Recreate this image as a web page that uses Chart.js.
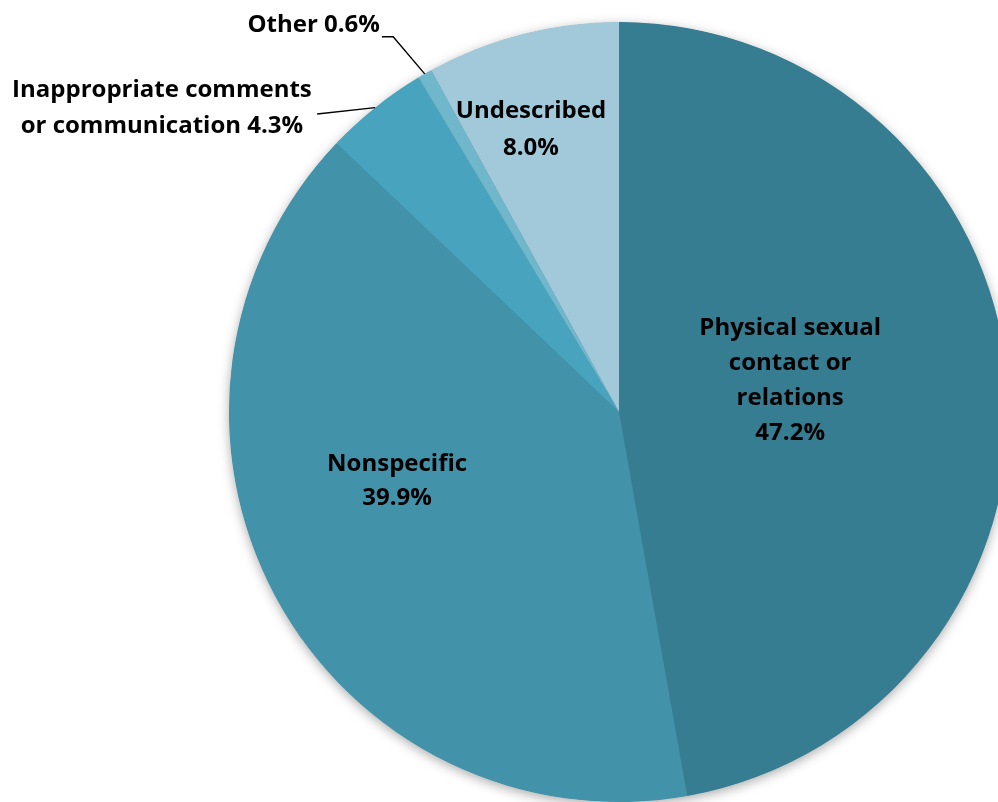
<!DOCTYPE html>
<html>
<head>
<meta charset="utf-8">
<script src="https://cdn.jsdelivr.net/npm/chart.js@4"></script>
<style>
html,body{margin:0;padding:0;background:#fff;overflow:hidden;width:998px;height:802px;}
#c{position:absolute;left:0;top:0;}
</style>
</head>
<body>
<canvas id="c" width="1238" height="802" style="width:1238px;height:802px"></canvas>
<script>
const categories = ['Physical sexual contact or relations','Nonspecific','Inappropriate comments or communication','Other','Undescribed'];
const values = [47.2, 39.9, 4.3, 0.6, 8.0];
const colors = ['#367D91','#4292AA','#48A4BE','#71B7CC','#A1C9DA'];
const labelLines = [
  ['Physical sexual','contact or','relations','47.2%'],
  ['Nonspecific','39.9%'],
  ['Inappropriate comments','or communication 4.3%'],
  ['Other 0.6%'],
  ['Undescribed','8.0%']
];

const FONT = 'bold 24px "Open Sans"';
const BASE_SHIFT = 1.5;
// label placement in units of the pie radius
const inner = {
  0: {ang: 79.1, r: 0.447, lh: 35},
  1: {ang: 253, r: 0.595, lh: 34},
  4: {ang: 342.8, r: 0.763, lh: 37}
};
const outer = {
  3: {pts: [[-0.579,-0.962],[-0.608,-0.962]], tx: -0.613, ty: -0.997, align: 'right', lh: 36},
  2: {pts: [[-0.774,-0.764]], tx: -1.172, ty: -0.828, align: 'center', lh: 36}
};

const pieExtras = {
  id: 'pieExtras',
  beforeDatasetsDraw(chart) {
    const arc = chart.getDatasetMeta(0).data[0];
    const p = arc.getProps(['x','y','outerRadius'], true);
    const ctx = chart.ctx;
    ctx.save();
    ctx.shadowColor = 'rgba(0,0,0,0.35)';
    ctx.shadowBlur = 12;
    ctx.shadowOffsetY = 3;
    ctx.fillStyle = colors[0];
    ctx.beginPath();
    ctx.arc(p.x, p.y, p.outerRadius - 0.5, 0, Math.PI*2);
    ctx.fill();
    ctx.restore();
  },
  afterDraw(chart) {
    const ctx = chart.ctx;
    const meta = chart.getDatasetMeta(0);
    ctx.save();
    ctx.font = FONT;
    ctx.fillStyle = '#000';
    ctx.textBaseline = 'middle';
    meta.data.forEach((arc, i) => {
      const p = arc.getProps(['x','y','startAngle','endAngle','outerRadius'], true);
      const R = p.outerRadius;
      const lines = labelLines[i];
      if (inner[i]) {
        const o = inner[i];
        const a = -Math.PI/2 + o.ang*Math.PI/180;
        const cx = p.x + Math.cos(a)*R*o.r;
        const cy = p.y + Math.sin(a)*R*o.r + BASE_SHIFT;
        ctx.textAlign = 'center';
        const y0 = cy - (lines.length-1)*o.lh/2;
        lines.forEach((t, k) => ctx.fillText(t, cx, y0 + k*o.lh));
      } else if (outer[i]) {
        const o = outer[i];
        const mid = (p.startAngle + p.endAngle)/2;
        ctx.strokeStyle = '#000';
        ctx.lineWidth = 1.4;
        ctx.beginPath();
        ctx.moveTo(p.x + Math.cos(mid)*R, p.y + Math.sin(mid)*R);
        o.pts.forEach(q => ctx.lineTo(p.x + q[0]*R, p.y + q[1]*R));
        ctx.stroke();
        ctx.textAlign = o.align;
        const tx = p.x + o.tx*R, ty = p.y + o.ty*R + BASE_SHIFT;
        lines.forEach((t, k) => ctx.fillText(t, tx, ty + k*o.lh));
      }
    });
    ctx.restore();
  }
};

new Chart(document.getElementById('c'), {
  type: 'pie',
  data: {
    labels: categories,
    datasets: [{ data: values, backgroundColor: colors, borderWidth: 0, hoverOffset: 0 }]
  },
  options: {
    responsive: false,
    animation: false,
    layout: { padding: { top: 22, bottom: 0, left: 0, right: 0 } },
    plugins: { legend: { display: false }, tooltip: { enabled: false } }
  },
  plugins: [pieExtras]
});
</script>
</body>
</html>
